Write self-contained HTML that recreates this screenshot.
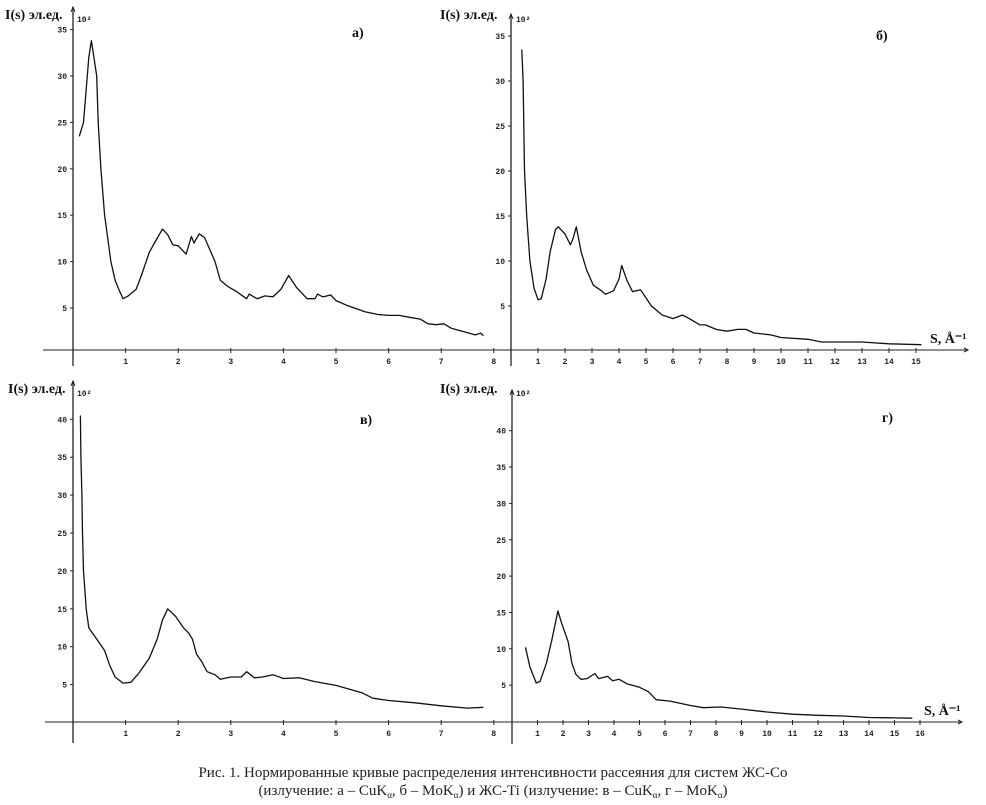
<!DOCTYPE html>
<html><head><meta charset="utf-8">
<style>
html,body{margin:0;padding:0;background:#fff;}
svg{display:block;}
.tk{font-family:"Liberation Mono",monospace;font-size:8px;font-weight:bold;fill:#222;}
.lab{font-family:"Liberation Serif",serif;font-size:14px;font-weight:bold;fill:#111;}
.cap{font-family:"Liberation Serif",serif;font-size:15px;fill:#222;}
</style></head>
<body>
<svg id="fig" width="986" height="805" viewBox="0 0 986 805" xmlns="http://www.w3.org/2000/svg">
<text class="cap" x="493" y="777" text-anchor="middle">Рис. 1. Нормированные кривые распределения интенсивности рассеяния для систем ЖС-Co</text>
<text class="cap" x="493" y="795" text-anchor="middle">(излучение: а – CuK<tspan font-size="9" dy="3">α</tspan><tspan dy="-3">, б – MoK</tspan><tspan font-size="9" dy="3">α</tspan><tspan dy="-3">) и ЖС-Ti (излучение: в – CuK</tspan><tspan font-size="9" dy="3">α</tspan><tspan dy="-3">, г – MoK</tspan><tspan font-size="9" dy="3">α</tspan><tspan dy="-3">)</tspan></text>
</svg>
<script>
// Panel а data
const sA = [0.12,0.2,0.3,0.35,0.45,0.48,0.53,0.6,0.72,0.8,0.87,0.95,1.05,1.2,1.3,1.45,1.55,1.7,1.8,1.9,2.0,2.15,2.25,2.3,2.4,2.5,2.6,2.7,2.8,2.95,3.1,3.3,3.35,3.5,3.65,3.8,3.95,4.1,4.25,4.45,4.6,4.65,4.75,4.9,5.0,5.2,5.35,5.55,5.8,6.0,6.2,6.4,6.6,6.75,6.9,7.05,7.2,7.4,7.65,7.75,7.8];
const iA = [23.5,25,32,33.8,30,25,20,15,10,8,7,6,6.3,7,8.5,11,12,13.5,12.9,11.8,11.7,10.8,12.7,12,13,12.6,11.3,10,8,7.3,6.8,6,6.5,6,6.3,6.2,7,8.5,7.2,6,6,6.5,6.2,6.4,5.8,5.3,5,4.6,4.3,4.2,4.2,4,3.8,3.3,3.2,3.3,2.8,2.5,2.1,2.3,2.0];
// Panel б data
const sB = [0.4,0.45,0.5,0.58,0.7,0.85,1.0,1.12,1.3,1.45,1.65,1.75,2.0,2.2,2.3,2.42,2.6,2.8,3.05,3.3,3.5,3.8,4.0,4.1,4.3,4.5,4.8,5.2,5.6,6.0,6.35,6.6,7.0,7.2,7.6,8.0,8.4,8.7,9.0,9.6,10.0,11.0,11.5,12.5,13.0,14.0,15.2];
const iB = [33.5,30,20,15,10,7,5.7,5.8,8,11,13.5,13.8,13,11.8,12.5,13.8,11,9,7.3,6.8,6.3,6.7,8,9.5,7.8,6.6,6.8,5,4,3.6,4,3.6,2.9,2.9,2.4,2.2,2.4,2.4,2.0,1.8,1.5,1.3,1.0,1.0,1.0,0.8,0.7];
// Panel в data
const sC = [0.14,0.15,0.17,0.18,0.2,0.25,0.3,0.45,0.6,0.7,0.8,0.95,1.1,1.25,1.45,1.6,1.7,1.8,1.95,2.1,2.2,2.27,2.35,2.45,2.55,2.7,2.8,3.0,3.2,3.3,3.45,3.6,3.8,4.0,4.3,4.6,5.0,5.2,5.5,5.7,6.0,6.5,7.0,7.5,7.8];
const iC = [40.5,35,30,25,20,15,12.5,11,9.5,7.5,6,5.2,5.3,6.5,8.5,11,13.5,15,14,12.5,11.8,11,9,8,6.7,6.3,5.7,6,6,6.7,5.9,6,6.3,5.8,5.9,5.4,4.9,4.5,3.9,3.2,2.9,2.6,2.2,1.9,2.0];
// Panel г data
const sD = [0.53,0.7,0.95,1.1,1.35,1.55,1.8,1.95,2.1,2.2,2.35,2.5,2.7,2.95,3.25,3.4,3.75,3.95,4.2,4.5,5.0,5.35,5.65,6.2,7.0,7.5,8.2,9.0,10.0,11.0,12.0,13.0,14.0,15.0,15.7];
const iD = [10.2,7.5,5.3,5.5,8,11,15.2,13.5,12,11,8,6.5,5.8,5.9,6.6,5.9,6.2,5.6,5.8,5.2,4.7,4.1,3.0,2.8,2.2,1.9,2.0,1.7,1.3,1.0,0.85,0.75,0.55,0.5,0.45];
const yTicksA = [5,10,15,20,25,30,35];
const yTicksC = [5,10,15,20,25,30,35,40];
const xTicksA = [1,2,3,4,5,6,7,8];
const xTicksB = [1,2,3,4,5,6,7,8,9,10,11,12,13,14,15];
const xTicksD = [1,2,3,4,5,6,7,8,9,10,11,12,13,14,15,16];

const NS="http://www.w3.org/2000/svg";
const svg=document.getElementById('fig');
function mk(tag,attrs,parent){const e=document.createElementNS(NS,tag);for(const k in attrs)e.setAttribute(k,attrs[k]);(parent||svg).appendChild(e);return e;}

const panels=[
 {id:'a',x0:73,kx:52.6,y0:354.4,ky:9.28,axY:350,xl:43,xr:497,yt:7,yb:366,s:sA,v:iA,yt_:yTicksA,xt:xTicksA,lab:'а)',lx:352,ly:37,tx:5,ty:19,px:77,arrow:false},
 {id:'b',x0:511,kx:27,y0:351,ky:9.0,axY:350,xl:480,xr:968,yt:14,yb:366,s:sB,v:iB,yt_:yTicksA,xt:xTicksB,lab:'б)',lx:876,ly:40,tx:440,ty:19,px:516,arrow:true},
 {id:'c',x0:73,kx:52.6,y0:722.5,ky:7.58,axY:722,xl:45,xr:497,yt:381,yb:743,s:sC,v:iC,yt_:yTicksC,xt:xTicksA,lab:'в)',lx:360,ly:424,tx:8,ty:393,px:77,arrow:false},
 {id:'d',x0:512,kx:25.5,y0:721.5,ky:7.27,axY:722,xl:480,xr:962,yt:390,yb:744,s:sD,v:iD,yt_:yTicksC,xt:xTicksD,lab:'г)',lx:882,ly:422,tx:440,ty:393,px:516,arrow:true}
];
panels.forEach(p=>{
 const g=mk('g',{});
 
 
 const X=s=>p.x0+s*p.kx, Y=v=>p.y0-v*p.ky;
 const xa=mk('line',{x1:p.xl,y1:p.axY,x2:p.xr,y2:p.axY,stroke:'#222','stroke-width':1},g);
 
 
 const ya=mk('line',{x1:p.x0,y1:p.yt,x2:p.x0,y2:p.yb,stroke:'#222','stroke-width':1.3},g);
 
 
 mk('path',{d:`M${p.x0-2},${p.yt+5} L${p.x0},${p.yt} L${p.x0+2},${p.yt+5}`,fill:'none',stroke:'#222'},g);
 if(p.arrow) mk('path',{d:`M${p.xr-4},${p.axY-2} L${p.xr},${p.axY} L${p.xr-4},${p.axY+2}`,fill:'none',stroke:'#222'},g);
 p.yt_.forEach(v=>{
  mk('line',{x1:p.x0-3,y1:Y(v),x2:p.x0,y2:Y(v),stroke:'#222'},g);
  const t=mk('text',{x:p.x0-6,y:Y(v)+3,'text-anchor':'end',class:'tk'},g);
  t.textContent=v;
  
  
 });
 p.xt.forEach(v=>{
  mk('line',{x1:X(v),y1:p.axY-2,x2:X(v),y2:p.axY+3,stroke:'#222'},g);
  const t=mk('text',{x:X(v),y:p.axY+14,'text-anchor':'middle',class:'tk'},g);
  t.textContent=v;
  
  
 });
 let d='';
 p.s.forEach((s,i)=>{d+=(i?'L':'M')+X(s).toFixed(1)+','+Y(p.v[i]).toFixed(1);});
 const c=mk('path',{d:d,fill:'none',stroke:'#111','stroke-width':1.3,'stroke-linejoin':'round'},g);
 
 
 const l=mk('text',{x:p.lx,y:p.ly,class:'lab'},g);
 l.textContent=p.lab;
 
 
 const ti=mk('text',{x:p.tx,y:p.ty,class:'lab','font-size':'13'},g);
 ti.textContent='I(s) эл.ед.';
 
 
 const sc=mk('text',{x:p.px,y:p.ty+3,class:'tk'},g);
 sc.textContent='10²';
 
 
 if(p.arrow){
  const xt=mk('text',{x:p.xr-38,y:p.axY-7,class:'lab'},g);
  xt.textContent='S, Å⁻¹';
  
  
 }
});
</script>
</body></html>
